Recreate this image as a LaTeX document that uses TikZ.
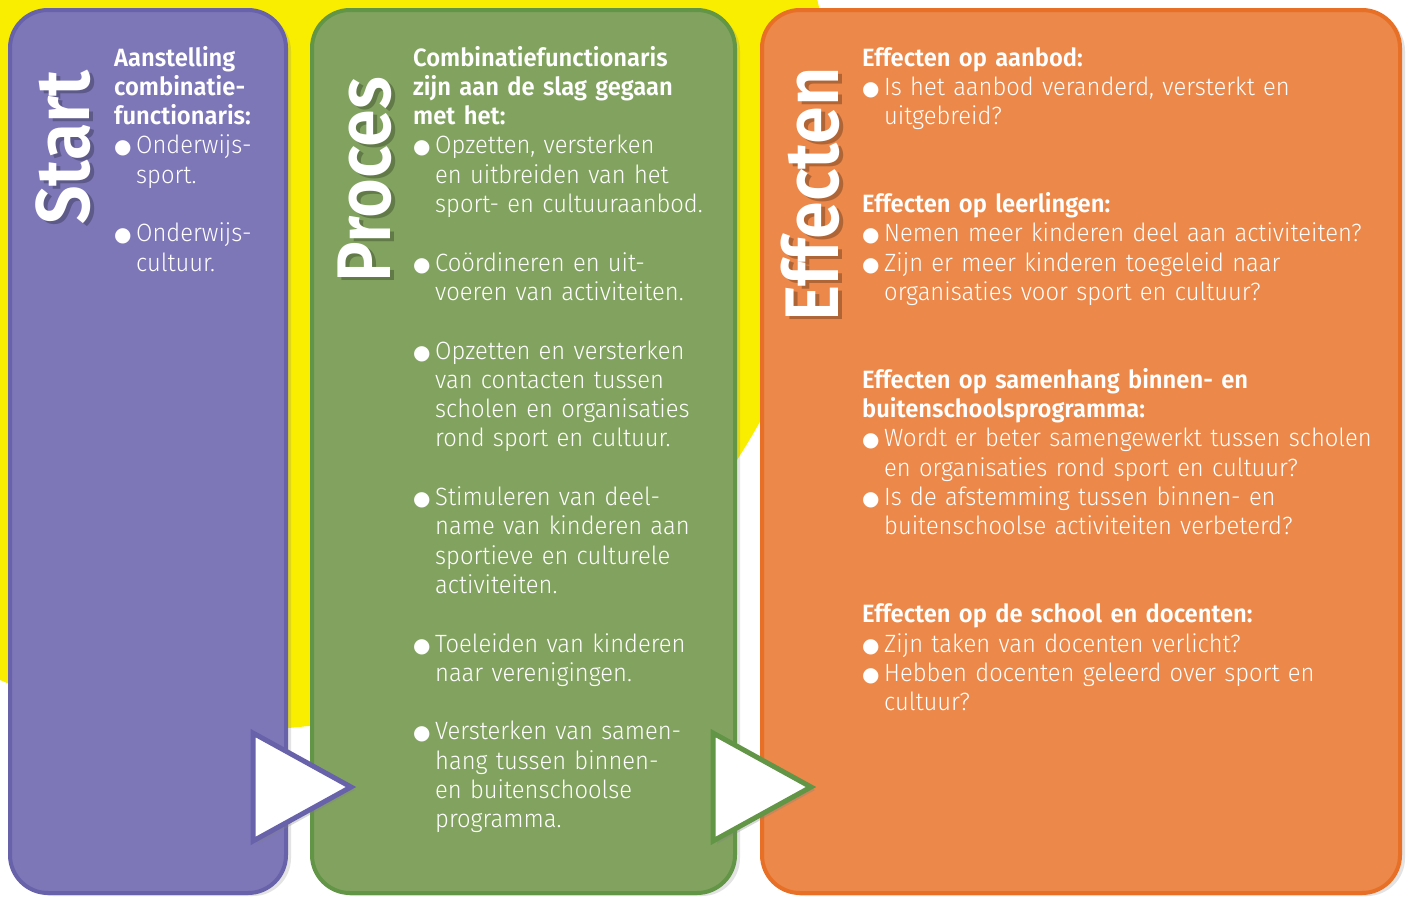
\documentclass[tikz,border=0pt]{standalone}
\usepackage{fontspec}
\setmainfont{Fira Sans}[UprightFont={* Light},BoldFont={* SemiBold},FakeStretch=0.95]
\newfontfamily\titlefont{Fira Sans}[BoldFont={* SemiBold},FakeStretch=0.9]
\newfontfamily\symfont{DejaVu Sans}
\usetikzlibrary{positioning,shadows}

\definecolor{bgyellow}{HTML}{FAEE00}
\definecolor{startfill}{HTML}{7D77B8}
\definecolor{startline}{HTML}{6862AB}
\definecolor{procesfill}{HTML}{82A35F}
\definecolor{procesline}{HTML}{629545}
\definecolor{effectfill}{HTML}{EB884A}
\definecolor{effectline}{HTML}{E87026}

\newcommand\bul{\makebox[22pt][l]{\raisebox{0pt}{\symfont\fontsize{20}{20}\selectfont ●}}}
\newcommand\itm{\par\noindent\hangindent=22pt\hangafter=1\bul}
\newcommand\nl{\newline}
\newcommand\gap{\par\vspace{29.3pt}}
\newcommand\gapp{\par\vspace{58.6pt}}

\begin{document}
\begin{tikzpicture}[x=1pt,y=-1pt,
    panel/.style={rounded corners=38pt, line width=4pt, inner sep=0pt,
      drop shadow={shadow xshift=5pt, shadow yshift=-3pt, opacity=.22}},
    paneltitle/.style={rotate=90, anchor=base west, inner sep=0pt, text=white,
      font=\titlefont\bfseries\fontsize{76}{76}\selectfont},
    titleshade/.style={paneltitle, text=black, opacity=.25},
    paneltext/.style={anchor=base west, inner sep=0pt, text=white, align=left,
      font=\fontsize{25}{29.3}\selectfont},
    arrowtri/.style={fill=white, line width=5pt, line join=miter,
      drop shadow={shadow xshift=4pt, shadow yshift=-3pt, opacity=.3}}
  ]
  \useasboundingbox (0,0) rectangle (1408,897);
  \fill[white] (0,0) rectangle (1408,897);
  \begin{scope}
    \clip (0,0) rectangle (1408,897);
    \fill[bgyellow] (239,136) circle (594);
  \end{scope}

  % panels
  \node[panel, fill=startfill, draw=startline, minimum width=276pt, minimum height=883pt] (start) at (148,451.5) {};
  \node[panel, fill=procesfill, draw=procesline, minimum width=423pt, minimum height=883pt] (proces) at (523.5,451.5) {};
  \node[panel, fill=effectfill, draw=effectline, minimum width=638pt, minimum height=883pt] (effect) at (1081,451.5) {};

  % arrows between panels
  \draw[arrowtri, draw=startline] (253,733) -- (253,841) -- (351,787) -- cycle;
  \draw[arrowtri, draw=procesline] (713,733) -- (713,841) -- (811,787) -- cycle;

  % titles
  \node[titleshade] (startshade) at (93,228) {Start};
  \node[paneltitle] (starttitle) at (89,225) {Start};
  \node[titleshade] (processhade) at (394,286) {Proces};
  \node[paneltitle] (procestitle) at (390,283) {Proces};
  \node[titleshade] (effectshade) at (842,325) {Effecten};
  \node[paneltitle] (effecttitle) at (838,322) {Effecten};

  % texts
  \node[paneltext, text width=170pt] (starttext) at (114,66) {%
    {\bfseries Aanstelling\\ combinatie-\\ functionaris:}
    \itm Onderwijs-\nl sport.
    \gap\itm Onderwijs-\nl cultuur.\par};

  \node[paneltext, text width=320pt] (procestext) at (413,66) {%
    {\bfseries Combinatiefunctionaris\\ zijn aan de slag gegaan\\ met het:}
    \itm Opzetten, versterken\nl en uitbreiden van het\nl sport- en cultuuraanbod.
    \gap\itm Coördineren en uit-\nl voeren van activiteiten.
    \gap\itm Opzetten en versterken\nl van contacten tussen\nl scholen en organisaties\nl rond sport en cultuur.
    \gap\itm Stimuleren van deel-\nl name van kinderen aan\nl sportieve en culturele\nl activiteiten.
    \gap\itm Toeleiden van kinderen\nl naar verenigingen.
    \gap\itm Versterken van samen-\nl hang tussen binnen-\nl en buitenschoolse\nl programma.\par};

  \node[paneltext, text width=530pt] (effecttext) at (862,66) {%
    {\bfseries Effecten op aanbod:}
    \itm Is het aanbod veranderd, versterkt en\nl uitgebreid?
    \gapp{\bfseries Effecten op leerlingen:}
    \itm Nemen meer kinderen deel aan activiteiten?
    \itm Zijn er meer kinderen toegeleid naar\nl organisaties voor sport en cultuur?
    \gapp{\bfseries Effecten op samenhang binnen- en\\ buitenschoolsprogramma:}
    \itm Wordt er beter samengewerkt tussen scholen\nl en organisaties rond sport en cultuur?
    \itm Is de afstemming tussen binnen- en\nl buitenschoolse activiteiten verbeterd?
    \gapp{\bfseries Effecten op de school en docenten:}
    \itm Zijn taken van docenten verlicht?
    \itm Hebben docenten geleerd over sport en\nl cultuur?\par};
\end{tikzpicture}
\end{document}
